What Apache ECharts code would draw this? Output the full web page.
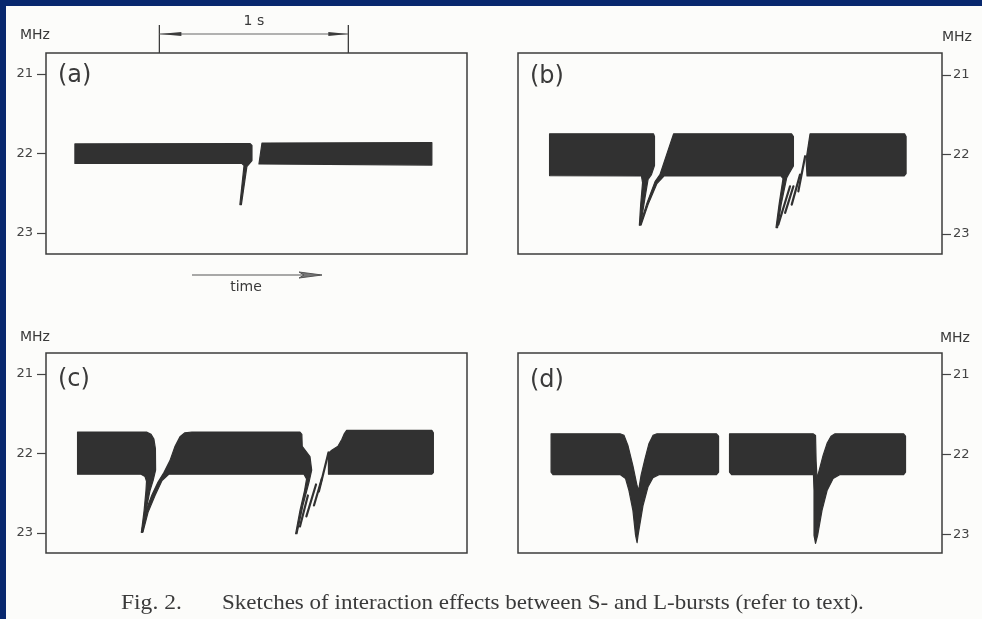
<!DOCTYPE html>
<html><head><meta charset="utf-8">
<script src="https://cdn.jsdelivr.net/npm/echarts@6/dist/echarts.min.js"></script>
<style>html,body{margin:0;padding:0;background:#fcfcfa}#c{width:982px;height:619px}</style>
</head><body><div id="c"></div>
<script>
// ---- data (time in s, frequency in MHz) ----
const yTicks = [21, 22, 23];
const panelLabels = ['(a)', '(b)', '(c)', '(d)'];
const timeSpans = [2.228, 2.243, 2.228, 2.243];
const freqRanges = [[20.736, 23.264], [20.724, 23.25], [20.736, 23.252], [20.73, 23.23]];
const scaleBar = [0.6, 1.6];           // the "1 s" marker
const captionFig = 'Fig. 2.';
const captionText = 'Sketches of interaction effects between S- and L-bursts (refer to text).';

// panel (a)
const aBurst1 = [[0.153,21.88],[1.079,21.874],[1.090,21.90],[1.090,22.088],[1.063,22.164],[1.034,22.642],[1.026,22.642],[1.048,22.151],[1.037,22.126],[0.153,22.126]];
const aBurst2 = [[1.143,21.868],[2.042,21.862],[2.042,22.145],[1.127,22.132]];
// panel (b)
const bBurst1 = [[0.167,21.74],[0.717,21.74],[0.722,21.774],[0.722,22.138],[0.706,22.252],[0.688,22.314],[0.672,22.541],[0.649,22.881],[0.642,22.889],[0.649,22.629],[0.659,22.352],[0.653,22.270],[0.167,22.264]];
const bBurst2 = [[0.823,21.74],[1.447,21.74],[1.457,21.774],[1.457,22.145],[1.434,22.239],[1.421,22.296],[1.392,22.629],[1.373,22.918],[1.365,22.918],[1.381,22.629],[1.402,22.302],[1.392,22.270],
  [0.772,22.270],[0.735,22.365],[0.688,22.629],[0.651,22.887],[0.646,22.881],[0.683,22.604],[0.725,22.340],[0.751,22.252]];
const bBurst3 = [[1.545,21.74],[2.045,21.74],[2.053,21.774],[2.053,22.239],[2.042,22.270],[1.529,22.270],[1.524,22.063]];
const bStrokes = [
  [[1.377,22.881],[1.439,22.399]],
  [[1.413,22.733],[1.457,22.399]],
  [[1.448,22.629],[1.492,22.252]],
  [[1.483,22.462],[1.519,22.021]]
];
// panel (c)
const cBurst1 = [[0.167,21.73],[0.532,21.73],[0.556,21.76],[0.571,21.82],[0.579,21.94],[0.580,22.21],[0.568,22.33],[0.550,22.47],[0.529,22.72],[0.511,22.99],[0.505,22.99],[0.519,22.72],[0.529,22.47],[0.532,22.35],[0.524,22.29],[0.503,22.26],[0.167,22.26]];
const cBurst2 = [[0.772,21.73],[1.344,21.73],[1.354,21.76],[1.356,21.91],[1.397,22.04],[1.406,22.21],[1.392,22.36],[1.360,22.65],[1.328,23.01],[1.321,23.01],[1.344,22.72],[1.368,22.47],[1.379,22.32],[1.365,22.26],
  [0.651,22.26],[0.614,22.34],[0.577,22.53],[0.540,22.74],[0.513,22.99],[0.505,22.99],[0.529,22.72],[0.561,22.52],[0.593,22.36],[0.624,22.24],[0.656,22.09],[0.683,21.91],[0.709,21.79],[0.735,21.74]];
const cBurst3 = [[1.591,21.71],[2.042,21.71],[2.050,21.74],[2.050,22.24],[2.042,22.26],[1.495,22.26],[1.494,22.00],[1.512,21.96],[1.545,21.91],[1.566,21.82],[1.579,21.75]];
const cStrokes = [
  [[1.495,21.987],[1.444,22.478]],
  [[1.460,22.314],[1.418,22.654]],
  [[1.429,22.390],[1.378,22.792]],
  [[1.386,22.528],[1.344,22.918]]
];
// panel (d)
const dBurst1 = [[0.175,21.74],[0.540,21.74],[0.561,21.76],[0.582,21.89],[0.608,22.14],[0.630,22.39],[0.638,22.45],[0.651,22.26],[0.672,22.05],[0.693,21.86],[0.714,21.76],[0.735,21.74],[1.050,21.74],[1.061,21.77],[1.061,22.22],[1.050,22.25],[0.746,22.25],[0.714,22.29],[0.688,22.40],[0.661,22.64],[0.635,23.01],[0.630,23.10],[0.622,23.01],[0.608,22.70],[0.587,22.45],[0.569,22.30],[0.540,22.25],[0.185,22.25],[0.175,22.22]];
const dBurst2 = [[1.119,21.74],[1.561,21.74],[1.574,21.76],[1.577,22.08],[1.582,22.30],[1.593,22.20],[1.614,22.01],[1.635,21.86],[1.656,21.77],[1.677,21.74],[2.040,21.74],[2.050,21.77],[2.050,22.22],[2.040,22.25],[1.704,22.25],[1.667,22.30],[1.635,22.45],[1.608,22.70],[1.585,23.01],[1.574,23.11],[1.566,23.01],[1.566,22.45],[1.563,22.25],[1.130,22.25],[1.119,22.22]];

// ---- styling / layout ----
const INK = '#313131';
const LINE = '#3c3c3c';
const TXT = '#3a3a3a';
const BLUE = '#08286e';
const grids = [
  {left: 46, top: 53, width: 421, height: 201},
  {left: 518, top: 53, width: 424, height: 201},
  {left: 46, top: 353, width: 421, height: 200},
  {left: 518, top: 353, width: 424, height: 200}
];

function polySeries(points, gi) {
  return {
    type: 'custom', xAxisIndex: gi, yAxisIndex: gi, clip: false, silent: true,
    data: points, encode: {x: 0, y: 1},
    renderItem: function (params, api) {
      if (params.dataIndex !== 0) return null;
      return {type: 'polygon', shape: {points: points.map(p => api.coord(p))},
        style: {fill: INK, stroke: INK, lineWidth: 1.2, lineJoin: 'round'}};
    }
  };
}
function strokeSeries(strokes, gi) {
  return {
    type: 'custom', xAxisIndex: gi, yAxisIndex: gi, clip: false, silent: true,
    data: strokes.map((s, i) => [s[0][0], s[0][1], i]),
    renderItem: function (params, api) {
      const s = strokes[params.dataIndex];
      return {type: 'polyline', shape: {points: s.map(p => api.coord(p))},
        style: {stroke: INK, lineWidth: 2.2, fill: null, lineCap: 'round'}};
    }
  };
}
const scaleSeries = {
  type: 'custom', xAxisIndex: 0, yAxisIndex: 0, clip: false, silent: true,
  data: [scaleBar],
  renderItem: function (params, api) {
    const x1 = api.coord([api.value(0), 21])[0];
    const x2 = api.coord([api.value(1), 21])[0];
    const top = params.coordSys.y;
    const yA = top - 19;
    return {type: 'group', children: [
      {type: 'line', shape: {x1: x1, y1: top - 28, x2: x1, y2: top}, style: {stroke: LINE, lineWidth: 1.3}},
      {type: 'line', shape: {x1: x2, y1: top - 28, x2: x2, y2: top}, style: {stroke: LINE, lineWidth: 1.3}},
      {type: 'line', shape: {x1: x1, y1: yA, x2: x2, y2: yA}, style: {stroke: '#666', lineWidth: 1}},
      {type: 'polygon', shape: {points: [[x1, yA], [x1 + 22, yA - 2], [x1 + 22, yA + 2]]}, style: {fill: LINE}},
      {type: 'polygon', shape: {points: [[x2, yA], [x2 - 20, yA - 2], [x2 - 20, yA + 2]]}, style: {fill: LINE}},
      {type: 'text', style: {text: '1 s', x: (x1 + x2) / 2, y: top - 32, textAlign: 'center', textVerticalAlign: 'middle', font: '14px "DejaVu Sans"', fill: TXT}}
    ]};
  }
};

const series = [
  polySeries(aBurst1, 0), polySeries(aBurst2, 0),
  polySeries(bBurst1, 1), polySeries(bBurst2, 1), polySeries(bBurst3, 1), strokeSeries(bStrokes, 1),
  polySeries(cBurst1, 2), polySeries(cBurst2, 2), polySeries(cBurst3, 2), strokeSeries(cStrokes, 2),
  polySeries(dBurst1, 3), polySeries(dBurst2, 3),
  scaleSeries
];

const txt = (text, x, y, size, align, family, sx) => ({type: 'text', x: x, y: y, scaleX: sx || 1,
  style: {text: text, x: 0, y: 0, textAlign: align || 'left', textVerticalAlign: 'middle', font: size + 'px ' + (family || '"DejaVu Sans"'), fill: TXT}});

const graphic = [
  {type: 'rect', shape: {x: 0, y: 0, width: 982, height: 6}, style: {fill: BLUE}},
  {type: 'rect', shape: {x: 0, y: 0, width: 6, height: 619}, style: {fill: BLUE}},
  txt('MHz', 20, 35, 14), txt('MHz', 942, 37, 14),
  txt('MHz', 20, 337, 14), txt('MHz', 940, 338, 14),
  txt(panelLabels[0], 58, 76, 24), txt(panelLabels[1], 530, 77, 24),
  txt(panelLabels[2], 58, 380, 24), txt(panelLabels[3], 530, 381, 24),
  {type: 'line', shape: {x1: 192, y1: 275, x2: 320, y2: 275}, style: {stroke: '#555', lineWidth: 1.2}},
  {type: 'polygon', shape: {points: [[299, 272], [322, 275], [299, 278], [304, 275]]}, style: {fill: '#777', stroke: '#555', lineWidth: 1}},
  txt('time', 246, 287, 14, 'center'),
  txt(captionFig, 121, 603, 21, 'left', '"Liberation Serif"', 1.12),
  txt(captionText, 222, 603, 21, 'left', '"Liberation Serif"', 1.096)
];

const chart = echarts.init(document.getElementById('c'), null, {renderer: 'canvas'});
chart.setOption({
  animation: false,
  backgroundColor: '#fcfcfa',
  grid: grids.map(g => Object.assign({show: true, borderColor: LINE, borderWidth: 1.5, backgroundColor: 'transparent'}, g)),
  xAxis: grids.map((g, i) => ({gridIndex: i, type: 'value', min: 0, max: timeSpans[i], show: false})),
  yAxis: grids.map((g, i) => ({
    gridIndex: i, type: 'value', inverse: true, min: freqRanges[i][0], max: freqRanges[i][1],
    position: i % 2 ? 'right' : 'left',
    axisLine: {show: false, onZero: false}, splitLine: {show: false},
    axisTick: {show: true, customValues: yTicks, length: 9, lineStyle: {color: '#444', width: 1.2}},
    axisLabel: {customValues: yTicks, margin: i % 2 ? 11 : 13, color: '#444', fontSize: 13, fontFamily: 'DejaVu Sans'}
  })),
  series: series,
  graphic: graphic
});
</script></body></html>
